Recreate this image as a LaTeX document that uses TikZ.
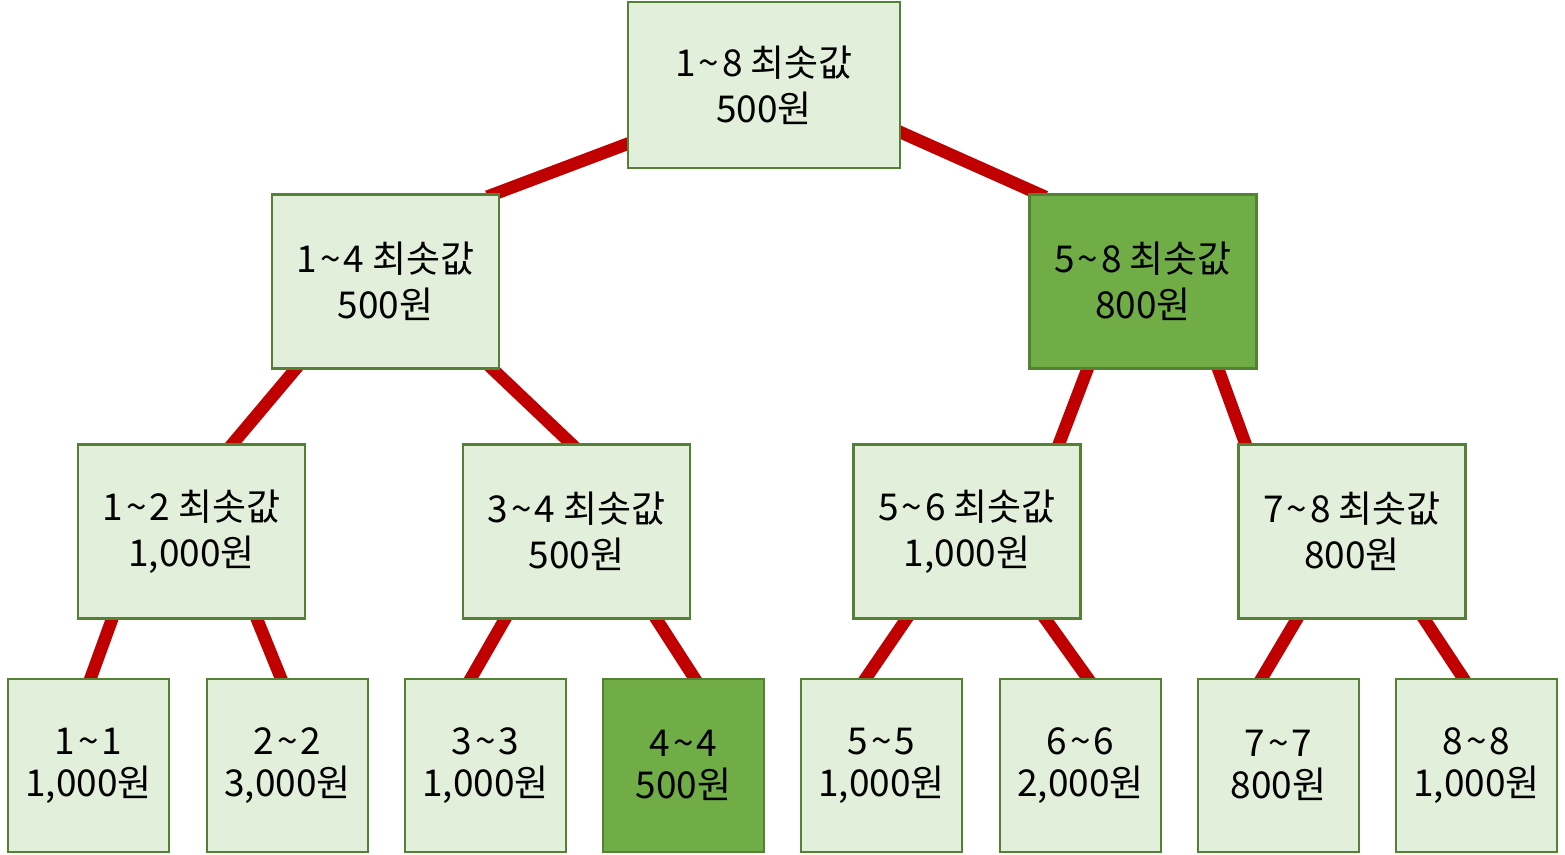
\documentclass[tikz,border=0pt]{standalone}
\usepackage{fontspec}
\setmainfont{Noto Sans CJK KR}
\usetikzlibrary{backgrounds,calc}
\definecolor{edgered}{HTML}{C00000}
\definecolor{boxborder}{HTML}{548235}
\definecolor{boxlight}{HTML}{E2EFDA}
\definecolor{boxdark}{HTML}{70AD47}
\newcommand{\tl}{\kern3pt\textasciitilde\kern3pt}
\tikzset{
  box/.style={draw=boxborder, line width=2.6pt, fill=boxlight, inner sep=0pt, outer sep=0pt,
    align=center, font=\fontsize{37}{45.7}\selectfont, text=black},
  dark/.style={fill=boxdark},
  mid/.style={box, minimum width=227pt, minimum height=174pt},
  leaf/.style={box, minimum width=161pt, minimum height=173pt},
  edge/.style={draw=edgered, line width=12.5pt, shorten <=-6pt, shorten >=-6pt}
}
\begin{document}
\begin{tikzpicture}[x=1pt,y=-1pt]
\useasboundingbox (0,0) rectangle (1565,854);
\node[box, minimum width=272pt, minimum height=166pt] (root) at (764,85) {1\tl8 최솟값\\500원};
\node[mid] (n14) at (385.5,281.5) {1\tl4 최솟값\\500원};
\node[mid, dark] (n58) at (1143,281.5) {5\tl8 최솟값\\800원};
\node[mid] (n12) at (191.5,531.5) {1\tl2 최솟값\\1,000원};
\node[mid] (n34) at (576.5,531.5) {3\tl4 최솟값\\500원};
\node[mid] (n56) at (967,531.5) {5\tl6 최솟값\\1,000원};
\node[mid] (n78) at (1352,531.5) {7\tl8 최솟값\\800원};
\node[leaf] (l1) at (88.5,765.5) {\raisebox{-4pt}{1\tl1}\\1,000원};
\node[leaf] (l2) at (287.5,765.5) {\raisebox{-4pt}{2\tl2}\\3,000원};
\node[leaf] (l3) at (485.5,765.5) {\raisebox{-4pt}{3\tl3}\\1,000원};
\node[leaf, dark] (l4) at (683.5,765.5) {\raisebox{-4pt}{4\tl4}\\500원};
\node[leaf] (l5) at (881.5,765.5) {\raisebox{-4pt}{5\tl5}\\1,000원};
\node[leaf] (l6) at (1080.5,765.5) {\raisebox{-4pt}{6\tl6}\\2,000원};
\node[leaf] (l7) at (1278.5,765.5) {\raisebox{-4pt}{7\tl7}\\800원};
\node[leaf] (l8) at (1476.5,765.5) {\raisebox{-4pt}{8\tl8}\\1,000원};
\begin{pgfonlayer}{background}
\draw[edge] ([shift={(-1,59)}]root.west) -- ([shift={(107.5,0)}]n14.north);
\draw[edge] ([shift={(0,47)}]root.east) -- ([shift={(-103,0)}]n58.north);
\draw[edge] ([shift={(-89.5,0)}]n14.south) -- ([shift={(40.5,0)}]n12.north);
\draw[edge] ([shift={(106.5,0)}]n14.south) -- ([shift={(-4.5,0)}]n34.north);
\draw[edge] ([shift={(-55.3,0)}]n58.south) -- ([shift={(91.7,0)}]n56.north);
\draw[edge] ([shift={(75,0)}]n58.south) -- ([shift={(-106.3,0)}]n78.north);
\draw[edge] ([shift={(-79.2,0)}]n12.south) -- ([shift={(1.8,0)}]l1.north);
\draw[edge] ([shift={(65.2,0)}]n12.south) -- ([shift={(-6.2,0)}]l2.north);
\draw[edge] ([shift={(-71.2,0)}]n34.south) -- ([shift={(-15,0)}]l3.north);
\draw[edge] ([shift={(79.5,0)}]n34.south) -- ([shift={(11.5,0)}]l4.north);
\draw[edge] ([shift={(-60.3,0)}]n56.south) -- ([shift={(-16.2,0)}]l5.north);
\draw[edge] ([shift={(78,0)}]n56.south) -- ([shift={(7.8,0)}]l6.north);
\draw[edge] ([shift={(-54.8,0)}]n78.south) -- ([shift={(-17.2,0)}]l7.north);
\draw[edge] ([shift={(71.8,0)}]n78.south) -- ([shift={(-12.7,0)}]l8.north);
\end{pgfonlayer}
\end{tikzpicture}
\end{document}
